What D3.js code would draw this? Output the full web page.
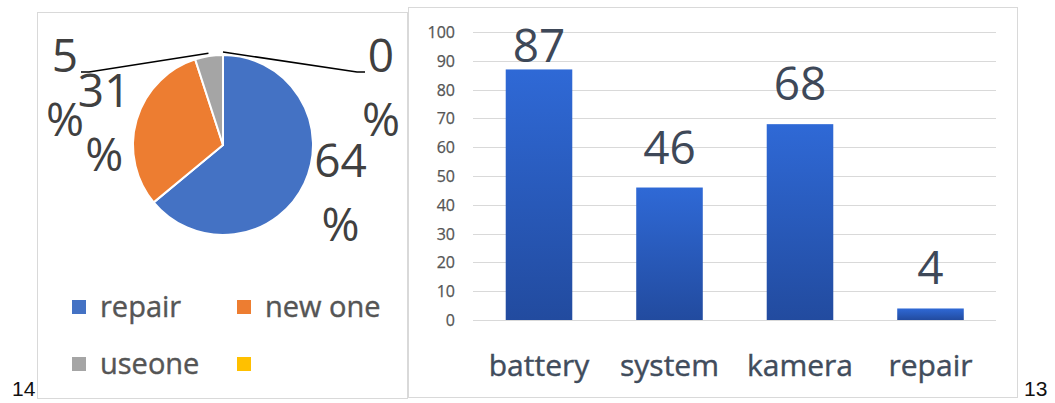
<!DOCTYPE html>
<html>
<head>
<meta charset="utf-8">
<script src="https://cdn.jsdelivr.net/npm/d3@7"></script>
<style>
  body { margin: 0; background: #fff; }
  text { font-family: "Open Sans", sans-serif; }
</style>
</head>
<body>
<svg id="chart" width="1055" height="403"></svg>
<script>
// pie data
const pieCategories = ["repair", "new one", "useone", ""];
const pieValues = [64, 31, 5, 0];
const pieColors = ["#4472c4", "#ed7d31", "#a5a5a5", "#ffc000"];

// bar data
const barCategories = ["battery", "system", "kamera", "repair"];
const barValues = [87, 46, 68, 4];
const yTicks = [0, 10, 20, 30, 40, 50, 60, 70, 80, 90, 100];

// page numbers in the corners
const pageNumbers = ["14", "13"];

const svg = d3.select("#chart");
svg.append("rect").attr("width", 1055).attr("height", 403).attr("fill", "#fff");

// panel frames
svg.append("rect")
    .attr("x", 37.5).attr("y", 12.5).attr("width", 370).attr("height", 386)
    .attr("fill", "none").attr("stroke", "#d9d9d9");
svg.append("rect")
    .attr("x", 408.5).attr("y", 7.5).attr("width", 609).attr("height", 390)
    .attr("fill", "none").attr("stroke", "#d9d9d9");

// ---------- pie ----------
const cx = 223, cy = 145, R = 90;
const pie = d3.pie().sort(null).value(d => d);
const arcs = pie(pieValues);
const arc = d3.arc().innerRadius(0).outerRadius(R);

const pg = svg.append("g");
pg.selectAll("path")
    .data(arcs)
    .enter()
    .append("path")
    .attr("transform", `translate(${cx},${cy})`)
    .attr("d", arc)
    .attr("fill", (d, i) => pieColors[i])
    .attr("stroke", "#fff")
    .attr("stroke-width", 2)
    .attr("stroke-linejoin", "round");

// labels: big slices outside the arc, small ones pulled up to the sides with leaders
const labelR = 130;
const nudge = [[0, 0], [6, 21]];
arcs.forEach(function (d, i) {
    const mid = (d.startAngle + d.endAngle) / 2;
    let lx, ly;
    if (d.value >= 10) {
        lx = cx + labelR * Math.sin(mid) + nudge[i][0];
        ly = cy - labelR * Math.cos(mid) - 23 + nudge[i][1];
    } else {
        const side = (mid % (2 * Math.PI)) < Math.PI ? 1 : -1;
        lx = cx + side * 158;
        ly = cy - 73;
        const px = cx + (R + 3) * Math.sin(mid);
        const py = cy - (R + 3) * Math.cos(mid);
        pg.append("polyline")
            .attr("points", [[px, py], [lx - side * 24, ly], [lx - side * 16, ly]].join(" "))
            .attr("fill", "none")
            .attr("stroke", "#000")
            .attr("stroke-width", 1.5);
    }
    const t = pg.append("text")
        .attr("text-anchor", "middle")
        .style("font-size", "46px")
        .attr("fill", "#404040");
    t.append("tspan").attr("x", lx).attr("y", ly).text(d.value);
    t.append("tspan").attr("x", lx).attr("y", ly + 64).text("%");
});

// legend
const legend = pg.selectAll("g.leg")
    .data(pieCategories)
    .enter()
    .append("g")
    .attr("class", "leg")
    .attr("transform", (d, i) => `translate(${72 + (i % 2) * 165},${300 + Math.floor(i / 2) * 57})`);
legend.append("rect")
    .attr("width", 14).attr("height", 14)
    .attr("fill", (d, i) => pieColors[i]);
legend.append("text")
    .attr("x", 28).attr("y", 17)
    .style("font-size", "29px")
    .attr("fill", "#555")
    .attr("stroke", "#555")
    .attr("stroke-width", 0.4)
    .text(d => d);

// ---------- bars ----------
const x = d3.scaleBand()
    .domain(barCategories)
    .range([473.75, 995.75])
    .paddingInner(0.49)
    .paddingOuter(0.245);
const y = d3.scaleLinear().domain([0, 100]).range([320, 32]);

const grad = svg.append("defs").append("linearGradient")
    .attr("id", "barGrad")
    .attr("x1", 0).attr("y1", 0).attr("x2", 0).attr("y2", 1);
grad.append("stop").attr("offset", "0%").attr("stop-color", "#2f69d6");
grad.append("stop").attr("offset", "100%").attr("stop-color", "#224b9f");

const bg = svg.append("g");
bg.selectAll("line.grid")
    .data(yTicks)
    .enter()
    .append("line")
    .attr("class", "grid")
    .attr("x1", 473).attr("x2", 996)
    .attr("y1", d => Math.round(y(d)) + 0.5)
    .attr("y2", d => Math.round(y(d)) + 0.5)
    .attr("stroke", "#d9d9d9");

bg.selectAll("text.tick")
    .data(yTicks)
    .enter()
    .append("text")
    .attr("class", "tick")
    .attr("x", 455)
    .attr("y", d => y(d) + 6)
    .attr("text-anchor", "end")
    .style("font-size", "16px")
    .attr("fill", "#555")
    .attr("stroke", "#555")
    .attr("stroke-width", 0.25)
    .text(d => d);

bg.selectAll("rect.bar")
    .data(barValues)
    .enter()
    .append("rect")
    .attr("class", "bar")
    .attr("x", (d, i) => x(barCategories[i]))
    .attr("y", d => y(d))
    .attr("width", x.bandwidth())
    .attr("height", d => y(0) - y(d))
    .attr("fill", "url(#barGrad)");

// value labels sit above the bar but stay inside the plot
bg.selectAll("text.val")
    .data(barValues)
    .enter()
    .append("text")
    .attr("class", "val")
    .attr("x", (d, i) => x(barCategories[i]) + x.bandwidth() / 2)
    .attr("y", d => Math.max(y(d) - 24, y(100) + 30))
    .attr("text-anchor", "middle")
    .style("font-size", "46px")
    .attr("fill", "#3e4858")
    .text(d => d);

bg.selectAll("text.cat")
    .data(barCategories)
    .enter()
    .append("text")
    .attr("class", "cat")
    .attr("x", d => x(d) + x.bandwidth() / 2)
    .attr("y", 376)
    .attr("text-anchor", "middle")
    .style("font-size", "30px")
    .attr("fill", "#414c5c")
    .attr("stroke", "#414c5c")
    .attr("stroke-width", 0.4)
    .text(d => d);

// page numbers
svg.selectAll("text.page")
    .data(pageNumbers)
    .enter()
    .append("text")
    .attr("class", "page")
    .attr("x", (d, i) => i === 0 ? 12 : 1024)
    .attr("y", 396)
    .style("font-family", "'Liberation Sans', Arial, sans-serif")
    .style("font-size", "21px")
    .attr("fill", "#111")
    .text(d => d);
</script>
</body>
</html>
